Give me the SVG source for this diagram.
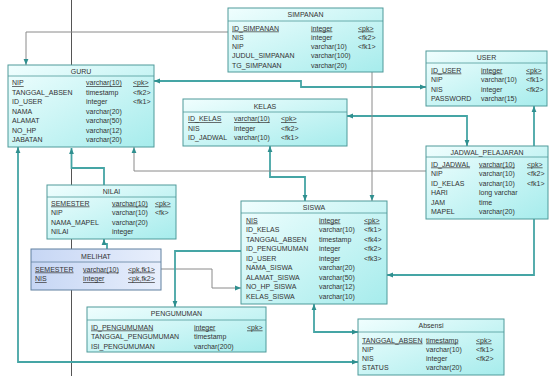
<svg xmlns="http://www.w3.org/2000/svg" width="550" height="376" viewBox="0 0 550 376">
<defs>
<linearGradient id="g" x1="0" y1="0" x2="1" y2="1"><stop offset="0" stop-color="#f0fefe"/><stop offset="1" stop-color="#a6ecec"/></linearGradient>
<linearGradient id="gb" x1="0" y1="0" x2="1" y2="0"><stop offset="0" stop-color="#c6d6f4"/><stop offset="1" stop-color="#e8effc"/></linearGradient>
<marker id="a" viewBox="0 0 10 10" refX="10" refY="5" markerWidth="6" markerHeight="6" orient="auto-start-reverse" markerUnits="userSpaceOnUse"><path d="M0,1 L10,5 L0,9 z" fill="#2f8f8f"/></marker>
</defs>
<style>
.t{font-family:"Liberation Sans",Arial,sans-serif;font-size:7px;fill:#333}
.h{text-anchor:middle}
.u{text-decoration:underline}
.box{fill:url(#g);stroke:#4f9a9a;stroke-width:1}
.boxb{fill:url(#gb);stroke:#6080a0;stroke-width:1}
.hl{stroke:#4f9a9a;stroke-width:0.8}
.c{fill:none;stroke:#45a5a5;stroke-width:1.8}
.k{fill:none;stroke:#8a8a8a;stroke-width:1}
.d{fill:none;stroke:#555;stroke-width:1}
</style>
<rect width="550" height="376" fill="#fff"/>
<g id="connectors">
<path class="d" d="M71.5,0 V65"/>
<path class="d" d="M71.5,168 V185 M71.5,239 V249 M71.5,290 V376"/>
<path class="c" d="M104,185 V168 H71.5 V148" marker-end="url(#a)"/>
<path class="k" d="M228,32 H26 V65" marker-end="url(#a)"/>
<path class="c" d="M154,81 H301 V87 H426" marker-start="url(#a)" marker-end="url(#a)"/>
<path class="c" d="M347,116 H467 V146" marker-start="url(#a)" marker-end="url(#a)"/>
<path class="c" d="M534,146 V106" marker-end="url(#a)"/>
<path class="k" d="M372,72 V201" marker-end="url(#a)"/>
<path class="c" d="M270,146 V177 H305 V201" marker-start="url(#a)" marker-end="url(#a)"/>
<path class="k" d="M426,171 H134 V147" marker-end="url(#a)"/>
<path class="c" d="M107,249 V244 H104 V239" marker-end="url(#a)"/>
<path class="k" d="M161,269 H212 V288 H241" marker-end="url(#a)"/>
<path class="c" d="M241,251 H175 V307" marker-end="url(#a)"/>
<path class="c" d="M534,219 V275 H387" marker-end="url(#a)"/>
<path class="c" d="M314,304 V332 H358" marker-start="url(#a)" marker-end="url(#a)"/>
<path class="c" d="M18,147 V362 H358" marker-start="url(#a)" marker-end="url(#a)"/>
</g>
<g id="guru">
<rect class="box" x="8" y="65" width="146" height="82"/>
<line class="hl" x1="8" y1="76" x2="154" y2="76"/>
<text class="t h" x="81" y="73.5">GURU</text>
<text class="t u" x="12" y="85">NIP</text><text class="t u" x="86" y="85">varchar(10)</text><text class="t u" x="133" y="85">&lt;pk&gt;</text>
<text class="t" x="12" y="94.5">TANGGAL_ABSEN</text><text class="t" x="86" y="94.5">timestamp</text><text class="t" x="133" y="94.5">&lt;fk2&gt;</text>
<text class="t" x="12" y="104">ID_USER</text><text class="t" x="86" y="104">integer</text><text class="t" x="133" y="104">&lt;fk1&gt;</text>
<text class="t" x="12" y="113.5">NAMA</text><text class="t" x="86" y="113.5">varchar(20)</text>
<text class="t" x="12" y="123">ALAMAT</text><text class="t" x="86" y="123">varchar(50)</text>
<text class="t" x="12" y="132.5">NO_HP</text><text class="t" x="86" y="132.5">varchar(12)</text>
<text class="t" x="12" y="142">JABATAN</text><text class="t" x="86" y="142">varchar(20)</text>
</g>
<g id="simpanan">
<rect class="box" x="228" y="8" width="155" height="64"/>
<line class="hl" x1="228" y1="21" x2="383" y2="21"/>
<text class="t h" x="305.5" y="17">SIMPANAN</text>
<text class="t u" x="232" y="30.5">ID_SIMPANAN</text><text class="t u" x="311" y="30.5">integer</text><text class="t u" x="358" y="30.5">&lt;pk&gt;</text>
<text class="t" x="232" y="39.8">NIS</text><text class="t" x="311" y="39.8">integer</text><text class="t" x="358" y="39.8">&lt;fk2&gt;</text>
<text class="t" x="232" y="49.1">NIP</text><text class="t" x="311" y="49.1">varchar(10)</text><text class="t" x="358" y="49.1">&lt;fk1&gt;</text>
<text class="t" x="232" y="58.4">JUDUL_SIMPANAN</text><text class="t" x="311" y="58.4">varchar(100)</text>
<text class="t" x="232" y="67.7">TG_SIMPANAN</text><text class="t" x="311" y="67.7">varchar(20)</text>
</g>
<g id="user">
<rect class="box" x="426" y="51" width="121" height="55"/>
<line class="hl" x1="426" y1="63" x2="547" y2="63"/>
<text class="t h" x="486.5" y="59.5">USER</text>
<text class="t u" x="431" y="72.5">ID_USER</text><text class="t u" x="481" y="72.5">integer</text><text class="t u" x="526" y="72.5">&lt;pk&gt;</text>
<text class="t" x="431" y="82">NIP</text><text class="t" x="481" y="82">varchar(10)</text><text class="t" x="526" y="82">&lt;fk1&gt;</text>
<text class="t" x="431" y="91.5">NIS</text><text class="t" x="481" y="91.5">integer</text><text class="t" x="526" y="91.5">&lt;fk2&gt;</text>
<text class="t" x="431" y="101">PASSWORD</text><text class="t" x="481" y="101">varchar(15)</text>
</g>
<g id="kelas">
<rect class="box" x="183" y="99" width="164" height="47"/>
<line class="hl" x1="183" y1="112" x2="347" y2="112"/>
<text class="t h" x="265" y="108.5">KELAS</text>
<text class="t u" x="188" y="121">ID_KELAS</text><text class="t u" x="234" y="121">varchar(10)</text><text class="t u" x="281" y="121">&lt;pk&gt;</text>
<text class="t" x="188" y="130.5">NIS</text><text class="t" x="234" y="130.5">integer</text><text class="t" x="281" y="130.5">&lt;fk2&gt;</text>
<text class="t" x="188" y="140">ID_JADWAL</text><text class="t" x="234" y="140">varchar(10)</text><text class="t" x="281" y="140">&lt;fk1&gt;</text>
</g>
<g id="jadwal_pelajaran">
<rect class="box" x="426" y="146" width="122" height="73"/>
<line class="hl" x1="426" y1="157" x2="548" y2="157"/>
<text class="t h" x="487" y="154.5">JADWAL_PELAJARAN</text>
<text class="t u" x="431" y="166.5">ID_JADWAL</text><text class="t u" x="479" y="166.5">varchar(10)</text><text class="t u" x="527" y="166.5">&lt;pk&gt;</text>
<text class="t" x="431" y="176">NIP</text><text class="t" x="479" y="176">varchar(10)</text><text class="t" x="527" y="176">&lt;fk2&gt;</text>
<text class="t" x="431" y="185.5">ID_KELAS</text><text class="t" x="479" y="185.5">varchar(10)</text><text class="t" x="527" y="185.5">&lt;fk1&gt;</text>
<text class="t" x="431" y="195">HARI</text><text class="t" x="479" y="195">long varchar</text>
<text class="t" x="431" y="204.5">JAM</text><text class="t" x="479" y="204.5">time</text>
<text class="t" x="431" y="214">MAPEL</text><text class="t" x="479" y="214">varchar(20)</text>
</g>
<g id="nilai">
<rect class="box" x="47" y="185" width="129" height="54"/>
<line class="hl" x1="47" y1="197" x2="176" y2="197"/>
<text class="t h" x="111.5" y="193.5">NILAI</text>
<text class="t u" x="51" y="205.5">SEMESTER</text><text class="t u" x="112" y="205.5">varchar(10)</text><text class="t u" x="155" y="205.5">&lt;pk&gt;</text>
<text class="t" x="51" y="215">NIP</text><text class="t" x="112" y="215">varchar(10)</text><text class="t" x="155" y="215">&lt;fk&gt;</text>
<text class="t" x="51" y="224.5">NAMA_MAPEL</text><text class="t" x="112" y="224.5">varchar(20)</text>
<text class="t" x="51" y="234">NILAI</text><text class="t" x="112" y="234">integer</text>
</g>
<g id="melihat">
<rect class="boxb" x="31" y="249" width="130" height="41"/>
<line x1="31" y1="262" x2="161" y2="262" stroke="#6080a0" stroke-width="0.8"/>
<text class="t h" x="96" y="258.5">MELIHAT</text>
<text class="t u" x="35" y="271.5">SEMESTER</text><text class="t u" x="83" y="271.5">varchar(10)</text><text class="t u" x="128" y="271.5">&lt;pk,fk1&gt;</text>
<text class="t u" x="35" y="281">NIS</text><text class="t u" x="83" y="281">integer</text><text class="t u" x="128" y="281">&lt;pk,fk2&gt;</text>
</g>
<g id="siswa">
<rect class="box" x="241" y="201" width="146" height="103"/>
<line class="hl" x1="241" y1="213" x2="387" y2="213"/>
<text class="t h" x="314" y="209.5">SISWA</text>
<text class="t u" x="246" y="222.5">NIS</text><text class="t u" x="319" y="222.5">integer</text><text class="t u" x="364" y="222.5">&lt;pk&gt;</text>
<text class="t" x="246" y="232">ID_KELAS</text><text class="t" x="319" y="232">varchar(10)</text><text class="t" x="364" y="232">&lt;fk1&gt;</text>
<text class="t" x="246" y="241.5">TANGGAL_ABSEN</text><text class="t" x="319" y="241.5">timestamp</text><text class="t" x="364" y="241.5">&lt;fk4&gt;</text>
<text class="t" x="246" y="251">ID_PENGUMUMAN</text><text class="t" x="319" y="251">integer</text><text class="t" x="364" y="251">&lt;fk2&gt;</text>
<text class="t" x="246" y="260.5">ID_USER</text><text class="t" x="319" y="260.5">integer</text><text class="t" x="364" y="260.5">&lt;fk3&gt;</text>
<text class="t" x="246" y="270">NAMA_SISWA</text><text class="t" x="319" y="270">varchar(20)</text>
<text class="t" x="246" y="279.5">ALAMAT_SISWA</text><text class="t" x="319" y="279.5">varchar(50)</text>
<text class="t" x="246" y="289">NO_HP_SISWA</text><text class="t" x="319" y="289">varchar(12)</text>
<text class="t" x="246" y="298.5">KELAS_SISWA</text><text class="t" x="319" y="298.5">varchar(10)</text>
</g>
<g id="pengumuman">
<rect class="box" x="87" y="307" width="179" height="45"/>
<line class="hl" x1="87" y1="320" x2="266" y2="320"/>
<text class="t h" x="176.5" y="315.5">PENGUMUMAN</text>
<text class="t u" x="91" y="329.5">ID_PENGUMUMAN</text><text class="t u" x="194" y="329.5">integer</text><text class="t u" x="247" y="329.5">&lt;pk&gt;</text>
<text class="t" x="91" y="339">TANGGAL_PENGUMUMAN</text><text class="t" x="194" y="339">timestamp</text>
<text class="t" x="91" y="348.5">ISI_PENGUMUMAN</text><text class="t" x="194" y="348.5">varchar(200)</text>
</g>
<g id="absensi">
<rect class="box" x="358" y="319" width="146" height="56"/>
<line class="hl" x1="358" y1="332" x2="504" y2="332"/>
<text class="t h" x="431" y="328">Absensi</text>
<text class="t u" x="362" y="342.5">TANGGAL_ABSEN</text><text class="t u" x="426" y="342.5">timestamp</text><text class="t u" x="476" y="342.5">&lt;pk&gt;</text>
<text class="t" x="362" y="351.5">NIP</text><text class="t" x="426" y="351.5">varchar(10)</text><text class="t" x="476" y="351.5">&lt;fk1&gt;</text>
<text class="t" x="362" y="360.5">NIS</text><text class="t" x="426" y="360.5">integer</text><text class="t" x="476" y="360.5">&lt;fk2&gt;</text>
<text class="t" x="362" y="369.5">STATUS</text><text class="t" x="426" y="369.5">varchar(20)</text>
</g>
</svg>
